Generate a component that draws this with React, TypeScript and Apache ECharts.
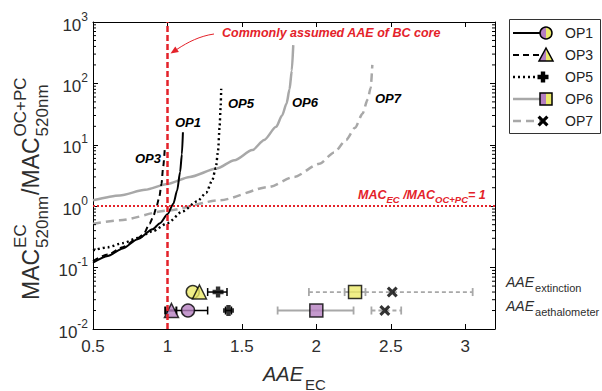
import React, { useEffect, useRef } from 'react';
import * as echarts from 'echarts';

// ---------- data ----------
const OP_NAMES = ['OP1', 'OP3', 'OP5', 'OP6', 'OP7'];

const OP1_CURVE = [[0.5, 0.12], [0.6, 0.155], [0.7, 0.205], [0.8, 0.29], [0.9, 0.42], [0.95, 0.53], [1.0, 0.74], [1.04, 1.1], [1.065, 1.8], [1.085, 3.6], [1.097, 7], [1.104, 16]];
const OP3_CURVE = [[0.5, 0.128], [0.6, 0.163], [0.7, 0.215], [0.8, 0.3], [0.84, 0.35], [0.88, 0.52], [0.905, 0.68], [0.925, 0.95], [0.945, 1.4], [0.96, 2.3], [0.971, 4.3], [0.982, 8.5]];
const OP5_CURVE = [[0.5, 0.19], [0.6, 0.215], [0.7, 0.25], [0.8, 0.305], [0.9, 0.39], [1.0, 0.53], [1.1, 0.82], [1.2, 1.2], [1.26, 1.65], [1.3, 2.6], [1.325, 4.2], [1.34, 8], [1.35, 19], [1.357, 40], [1.361, 82]];
const OP6_CURVE = [[0.5, 1.25], [0.68, 1.5], [0.85, 1.85], [1.0, 2.3], [1.15, 3.0], [1.33, 4.1], [1.45, 5.6], [1.57, 8.2], [1.65, 12], [1.73, 19.6], [1.77, 30], [1.8, 47], [1.82, 80], [1.835, 160], [1.845, 420]];
const OP7_CURVE = [[0.5, 0.52], [0.68, 0.59], [1.0, 0.85], [1.35, 1.25], [1.68, 2.05], [1.85, 3.0], [2.02, 4.9], [2.12, 7.5], [2.2, 12], [2.26, 19], [2.31, 32], [2.345, 55], [2.365, 85], [2.376, 200]];

// AAE markers (rows at fixed y)
const EXT_ROW = 0.04;
const AETH_ROW = 0.02;
const EXT_AAE = [1.17, 1.215, 1.34, 2.26, 2.51];
const EXT_LO = [null, null, 1.27, 2.19, 1.95];
const EXT_HI = [null, null, 1.40, 2.33, 3.05];
const AETH_AAE = [1.138, 1.027, 1.41, 2.0, 2.46];
const AETH_LO = [1.0, 0.985, 1.39, 1.74, 2.37];
const AETH_HI = [1.27, 1.06, 1.43, 2.25, 2.57];

const X_MIN = 0.5, X_MAX = 3.2, X_STEP = 0.5;
const Y_MIN = 0.01, Y_MAX = 1000;
const MINOR_MULT = [2, 3, 4, 5, 6, 7, 8, 9];
const DECADES = [0.01, 0.1, 1, 10, 100];

// ---------- styles ----------
const FONT = '"Liberation Sans", Arial, Helvetica, sans-serif';
const RED = '#e4222a';
const GRAY = '#a8a8a8';
const YELLOW = '#ecea6a';
const PURPLE = '#b57fc1';
const TEXT = '#2e2e2e';
const PLUS = 'path://M3,0H7V3H10V7H7V10H3V7H0V3H3Z';
const CROSS = 'path://M0,2L2,0L5,3L8,0L10,2L7,5L10,8L8,10L5,7L2,10L0,8L3,5Z';

const LINE_STYLES: any[] = [
  { color: '#000', width: 2, type: 'solid' },
  { color: '#000', width: 2, type: [6, 4] },
  { color: '#000', width: 2.4, type: [2, 3] },
  { color: GRAY, width: 2.5, type: 'solid' },
  { color: GRAY, width: 2.5, type: [8, 5] },
];
const SYMBOLS = ['circle', 'triangle', PLUS, 'rect', CROSS];
const SYM_SIZE = [13, 14, 11, 13, 11];
const SOLID_BLACK = [false, false, true, false, true];
const BAR_STYLE: any[] = [
  { stroke: '#000', lineWidth: 1.5 },
  { stroke: '#000', lineWidth: 2 },
  { stroke: '#000', lineWidth: 1.5 },
  { stroke: GRAY, lineWidth: 1.8 },
  { stroke: GRAY, lineWidth: 1.8, lineDash: [4, 3] },
];

let _ctx: CanvasRenderingContext2D | null = null;
function tw(text: string, size: number, style = 'normal', weight = 'normal') {
  if (!_ctx) _ctx = document.createElement('canvas').getContext('2d');
  _ctx!.font = `${style} ${weight} ${size}px "Liberation Sans"`;
  return _ctx!.measureText(text).width;
}

function txt(text: string, x: number, y: number, size: number, o: any = {}) {
  return {
    type: 'text', x, y, silent: true, z: 100,
    style: {
      text, fontSize: size, fontFamily: FONT,
      fontStyle: o.italic ? 'italic' : 'normal',
      fontWeight: o.bold ? 'bold' : 'normal',
      fill: o.color || '#000', align: o.align || 'left', verticalAlign: 'middle',
    },
  };
}

function buildGraphic() {
  const g: any[] = [];
  // y-axis title (rotated)
  const F = 23, f = 17;
  const children: any[] = [];
  let pos = 0;
  const yBase = 31, ySup = 20, ySub = 42;
  const o = { color: TEXT };
  children.push(txt('MAC', pos, yBase, F, o));
  pos += tw('MAC', F) + 1;
  children.push(txt('EC', pos, ySup, f, o));
  children.push(txt('520nm', pos, ySub, f, o));
  pos += Math.max(tw('EC', f), tw('520nm', f)) + 1;
  children.push(txt('/MAC', pos, yBase, F, o));
  pos += tw('/MAC', F) + 1;
  children.push(txt('OC+PC', pos, ySup, f, o));
  children.push(txt('520nm', pos, ySub, f, o));
  g.push({ type: 'group', x: 0, y: 300, rotation: Math.PI / 2, children });

  // x-axis title
  g.push(txt('AAE', 263, 374, 20, { italic: true, color: TEXT }));
  g.push(txt('EC', 263 + tw('AAE', 20, 'italic') + 2, 384, 15, { color: TEXT }));

  // right labels
  const aw = tw('AAE', 14, 'italic');
  g.push(txt('AAE', 506, 282, 14, { italic: true, color: TEXT }));
  g.push(txt('extinction', 506 + aw + 1, 288, 11, { color: TEXT }));
  g.push(txt('AAE', 506, 306, 14, { italic: true, color: TEXT }));
  g.push(txt('aethalometer', 506 + aw + 1, 312, 11, { color: TEXT }));

  // curve labels
  const lab = (t: string, x: number, y: number) => txt(t, x, y, 13, { bold: true, italic: true });
  g.push(lab('OP1', 175, 122));
  g.push(lab('OP3', 135, 158));
  g.push(lab('OP5', 228, 103));
  g.push(lab('OP6', 292, 102));
  g.push(lab('OP7', 375, 98));

  // annotation
  g.push(txt('Commonly assumed AAE of BC core', 222, 33, 12.5, { bold: true, italic: true, color: RED }));
  g.push({
    type: 'bezierCurve', silent: true, z: 100,
    shape: { x1: 214, y1: 34, cpx1: 200, cpy1: 36, cpx2: 188, cpy2: 42, x2: 177, y2: 49.3 },
    style: { stroke: RED, lineWidth: 1, fill: 'none' },
  });
  g.push({
    type: 'polygon', silent: true, z: 100,
    shape: { points: [[170.5, 53.5], [178.9, 52], [175.3, 46.6]] },
    style: { fill: RED },
  });

  // MAC_EC / MAC_OC+PC = 1
  let mx = 358;
  const M = 12.5, s = 9.5;
  const seg = (t: string, size: number, y: number) => {
    g.push(txt(t, mx, y, size, { bold: true, italic: true, color: RED }));
    mx += tw(t, size, 'italic', 'bold');
  };
  seg('MAC', M, 195); seg('EC', s, 199); seg(' /MAC', M, 195); seg('OC+PC', s, 199); seg('= 1', M, 195);

  // legend
  g.push({ type: 'rect', silent: true, z: 99, shape: { x: 509.5, y: 19.5, width: 91, height: 114 }, style: { fill: '#fff', stroke: '#333', lineWidth: 1 } });
  const rows = [33, 55, 77, 99, 121];
  const mxs = [546, 546, 543, 546, 543];
  OP_NAMES.forEach((name, i) => {
    const y = rows[i];
    const ls = LINE_STYLES[i];
    g.push({
      type: 'line', silent: true, z: 100,
      shape: { x1: 513, y1: y, x2: mxs[i] - 2, y2: y },
      style: { stroke: ls.color, lineWidth: ls.width, lineDash: ls.type === 'solid' ? null : ls.type },
    });
    const cx = mxs[i];
    const r = 6;
    if (i === 0) {
      g.push({ type: 'sector', silent: true, z: 101, shape: { cx, cy: y, r0: 0, r, startAngle: Math.PI / 2, endAngle: Math.PI * 1.5 }, style: { fill: PURPLE } });
      g.push({ type: 'sector', silent: true, z: 101, shape: { cx, cy: y, r0: 0, r, startAngle: -Math.PI / 2, endAngle: Math.PI / 2 }, style: { fill: YELLOW } });
      g.push({ type: 'circle', silent: true, z: 102, shape: { cx, cy: y, r }, style: { fill: 'none', stroke: '#000', lineWidth: 1.5 } });
    } else if (i === 1) {
      const h = 7;
      g.push({ type: 'polygon', silent: true, z: 101, shape: { points: [[cx, y - h], [cx - h, y + h - 1], [cx, y + h - 1]] }, style: { fill: PURPLE } });
      g.push({ type: 'polygon', silent: true, z: 101, shape: { points: [[cx, y - h], [cx, y + h - 1], [cx + h, y + h - 1]] }, style: { fill: YELLOW } });
      g.push({ type: 'polygon', silent: true, z: 102, shape: { points: [[cx, y - h], [cx - h, y + h - 1], [cx + h, y + h - 1]] }, style: { fill: 'none', stroke: '#000', lineWidth: 1.5 } });
    } else if (i === 2) {
      const a = 5.5, b = 2.2;
      g.push({ type: 'polygon', silent: true, z: 101, shape: { points: [[cx - b, y - a], [cx + b, y - a], [cx + b, y - b], [cx + a, y - b], [cx + a, y + b], [cx + b, y + b], [cx + b, y + a], [cx - b, y + a], [cx - b, y + b], [cx - a, y + b], [cx - a, y - b], [cx - b, y - b]] }, style: { fill: '#000' } });
    } else if (i === 3) {
      g.push({ type: 'rect', silent: true, z: 101, shape: { x: cx - 6, y: y - 6, width: 6, height: 12 }, style: { fill: PURPLE } });
      g.push({ type: 'rect', silent: true, z: 101, shape: { x: cx, y: y - 6, width: 6, height: 12 }, style: { fill: YELLOW } });
      g.push({ type: 'rect', silent: true, z: 102, shape: { x: cx - 6, y: y - 6, width: 12, height: 12 }, style: { fill: 'none', stroke: '#000', lineWidth: 1.5 } });
    } else {
      const a = 5.5, t = 2.2;
      g.push({ type: 'polygon', silent: true, z: 101, shape: { points: [[cx - a, y - a + t], [cx - a + t, y - a], [cx, y - t], [cx + a - t, y - a], [cx + a, y - a + t], [cx + t, y], [cx + a, y + a - t], [cx + a - t, y + a], [cx, y + t], [cx - a + t, y + a], [cx - a, y + a - t], [cx - t, y]] }, style: { fill: '#000' } });
    }
    g.push(txt(name, 565, y, 14, { color: '#222' }));
  });
  return g;
}

function buildOption() {
  const curves = [OP1_CURVE, OP3_CURVE, OP5_CURVE, OP6_CURVE, OP7_CURVE];
  const series: any[] = [];
  const order = [4, 3, 2, 1, 0];
  order.forEach((i) => {
    const ls = LINE_STYLES[i];
    series.push({
      name: OP_NAMES[i], type: 'line', data: curves[i], showSymbol: false, symbol: 'none',
      smooth: 0.25, smoothMonotone: 'x', clip: true, z: 2,
      lineStyle: { color: ls.color, width: ls.width, type: ls.type },
    });
  });
  // reference lines
  series.push({
    type: 'line', data: [], silent: true, z: 3,
    markLine: {
      silent: true, symbol: ['none', 'none'], label: { show: false }, animation: false,
      data: [
        { xAxis: 1, lineStyle: { color: RED, width: 2.5, type: [6, 3] } },
        { yAxis: 1, lineStyle: { color: RED, width: 2, type: [2, 2] } },
      ],
    },
  });
  // error bars
  const bars: any[] = [];
  OP_NAMES.forEach((_, i) => {
    if (EXT_LO[i] != null) bars.push([EXT_LO[i], EXT_HI[i], EXT_ROW, i]);
    if (AETH_LO[i] != null) bars.push([AETH_LO[i], AETH_HI[i], AETH_ROW, i]);
  });
  series.push({
    type: 'custom', data: bars, z: 3, silent: true, encode: { x: [0, 1], y: 2 },
    renderItem: (params: any, api: any) => {
      const a = api.coord([api.value(0), api.value(2)]);
      const b = api.coord([api.value(1), api.value(2)]);
      const st = BAR_STYLE[api.value(3)];
      const style = { stroke: st.stroke, lineWidth: st.lineWidth, lineDash: st.lineDash || null };
      const capStyle = { stroke: st.stroke, lineWidth: st.lineWidth };
      return {
        type: 'group', children: [
          { type: 'line', shape: { x1: a[0], y1: a[1], x2: b[0], y2: b[1] }, style },
          { type: 'line', shape: { x1: a[0], y1: a[1] - 4, x2: a[0], y2: a[1] + 4 }, style: capStyle },
          { type: 'line', shape: { x1: b[0], y1: b[1] - 4, x2: b[0], y2: b[1] + 4 }, style: capStyle },
        ],
      };
    },
  });
  // markers
  OP_NAMES.forEach((name, i) => {
    [[AETH_AAE[i], AETH_ROW, PURPLE], [EXT_AAE[i], EXT_ROW, YELLOW]].forEach(([x, y, fill]) => {
      series.push({
        type: 'scatter', data: [[x, y]], symbol: SYMBOLS[i], symbolSize: SYM_SIZE[i], z: 4, silent: true,
        itemStyle: SOLID_BLACK[i]
          ? { color: '#000', borderWidth: 0 }
          : { color: fill, borderColor: '#000', borderWidth: 1.5 },
      });
    });
  });
  // minor log ticks
  const minor: any[] = [];
  DECADES.forEach((d) => MINOR_MULT.forEach((m) => minor.push([X_MIN, m * d])));
  series.push({
    type: 'custom', data: minor, z: 5, silent: true, encode: { x: 0, y: 1 },
    renderItem: (params: any, api: any) => {
      const l = api.coord([X_MIN, api.value(1)]);
      const r = api.coord([X_MAX, api.value(1)]);
      const st = { stroke: '#000', lineWidth: 1 };
      return {
        type: 'group', children: [
          { type: 'line', shape: { x1: l[0], y1: l[1], x2: l[0] + 3, y2: l[1] }, style: st },
          { type: 'line', shape: { x1: r[0] - 3, y1: r[1], x2: r[0], y2: r[1] }, style: st },
        ],
      };
    },
  });

  const axisLine = { show: true, onZero: false, lineStyle: { color: '#000', width: 1 } };
  const axisTick = { show: true, inside: true, length: 5, lineStyle: { color: '#000', width: 1 } };
  return {
    animation: false,
    backgroundColor: '#fff',
    grid: { left: 93, right: 107, top: 22, bottom: 62, containLabel: false },
    xAxis: [
      {
        type: 'value', min: X_MIN, max: X_MAX, interval: X_STEP, position: 'bottom',
        axisLine, axisTick, splitLine: { show: false },
        axisLabel: {
          fontSize: 17, color: TEXT, fontFamily: FONT, margin: 9, showMaxLabel: true,
          formatter: (v: number) => (v <= 3.0001 && Math.abs(v / X_STEP - Math.round(v / X_STEP)) < 1e-6 ? String(Math.round(v * 10) / 10) : ''),
        },
      },
      {
        type: 'value', min: X_MIN, max: X_MAX, interval: X_STEP, position: 'top',
        axisLine, axisTick, splitLine: { show: false }, axisLabel: { show: false },
      },
    ],
    yAxis: [
      {
        type: 'log', logBase: 10, min: Y_MIN, max: Y_MAX, position: 'left',
        axisLine, axisTick, splitLine: { show: false },
        axisLabel: {
          margin: 5, color: TEXT, fontFamily: FONT,
          formatter: (v: number) => `{b|10}{e|${Math.round(Math.log10(v))}}`,
          rich: {
            b: { fontSize: 17, fontFamily: FONT, color: TEXT, verticalAlign: 'bottom' },
            e: { fontSize: 12, fontFamily: FONT, color: TEXT, verticalAlign: 'bottom', padding: [0, 0, 11, 0] },
          },
        },
      },
      {
        type: 'log', logBase: 10, min: Y_MIN, max: Y_MAX, position: 'right',
        axisLine, axisTick, splitLine: { show: false }, axisLabel: { show: false },
      },
    ],
    series,
    graphic: buildGraphic(),
  };
}

export default function App() {
  const ref = useRef<HTMLDivElement>(null);
  useEffect(() => {
    if (!ref.current) return;
    const chart = echarts.init(ref.current, undefined, { renderer: 'svg' });
    chart.setOption(buildOption() as any);
    return () => chart.dispose();
  }, []);
  return <div ref={ref} style={{ position: 'fixed', left: 0, top: 0, width: 602, height: 391, background: '#fff' }} />;
}
